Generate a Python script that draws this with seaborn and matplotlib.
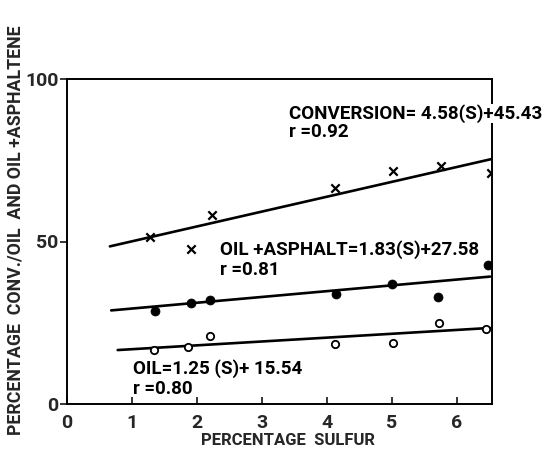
import matplotlib
matplotlib.use("Agg")
import matplotlib.pyplot as plt
import seaborn as sns
import pandas as pd

# --- data ---
conv_x = [1.27, 1.91, 2.23, 4.13, 5.02, 5.76, 6.53]
conv_y = [51.5, 47.6, 58.2, 66.4, 71.7, 73.2, 71.0]

asph_x = [1.35, 1.91, 2.20, 4.14, 5.00, 5.71, 6.48]
asph_y = [28.6, 31.0, 32.0, 33.7, 36.9, 32.8, 42.8]

oil_x = [1.34, 1.86, 2.20, 4.13, 5.02, 5.73, 6.45]
oil_y = [16.6, 17.6, 20.9, 18.4, 18.7, 25.0, 23.0]

# regression line end points
conv_line_x = [0.66, 6.54]
conv_line_y = [48.5, 75.4]
asph_line_x = [0.68, 6.51]
asph_line_y = [28.8, 39.2]
oil_line_x = [0.78, 6.51]
oil_line_y = [16.6, 23.4]

x_ticks = [0, 1, 2, 3, 4, 5, 6]
x_tick_labels = ["0", "1", "2", "3", "4", "5", "6"]
y_ticks = [0, 50, 100]
y_tick_labels = ["0", "50", "100"]

sns.set_style("ticks")
plt.rcParams["font.family"] = ["Roboto", "DejaVu Sans"]
plt.rcParams["font.weight"] = "bold"

fig = plt.figure(figsize=(5.45, 4.58), dpi=100)
ax = fig.add_axes([67 / 545, 54 / 458, 425 / 545, 325 / 458])

pts = pd.concat([
    pd.DataFrame({"s": conv_x, "v": conv_y, "series": "conv"}),
    pd.DataFrame({"s": asph_x, "v": asph_y, "series": "asph"}),
    pd.DataFrame({"s": oil_x, "v": oil_y, "series": "oil"}),
])
lines = pd.concat([
    pd.DataFrame({"s": conv_line_x, "v": conv_line_y, "series": "conv"}),
    pd.DataFrame({"s": asph_line_x, "v": asph_line_y, "series": "asph"}),
    pd.DataFrame({"s": oil_line_x, "v": oil_line_y, "series": "oil"}),
])

sns.lineplot(data=lines, x="s", y="v", units="series", estimator=None,
             color="black", linewidth=1.9, ax=ax, legend=False)

sns.scatterplot(data=pts[pts.series == "conv"], x="s", y="v", marker="x",
                color="black", s=36, linewidth=1.6, ax=ax, legend=False, zorder=3)
sns.scatterplot(data=pts[pts.series == "asph"], x="s", y="v", marker="o",
                color="black", edgecolor="black", s=42, ax=ax, legend=False, zorder=3)
sns.scatterplot(data=pts[pts.series == "oil"], x="s", y="v", marker="o",
                facecolor="white", edgecolor="black", linewidth=1.3, s=28,
                ax=ax, legend=False, zorder=3)

ax.set_xlim(0, 6.54)
ax.set_ylim(0, 100)
ax.set_xticks(x_ticks, labels=x_tick_labels, fontweight="bold")
ax.set_yticks(y_ticks, labels=y_tick_labels, fontweight="bold")
ax.tick_params(axis="x", direction="in", length=5, width=1.3, labelsize=14, pad=7)
ax.tick_params(axis="y", direction="out", length=5, width=1.3, labelsize=14, pad=1)
for sp in ax.spines.values():
    sp.set_linewidth(1.4)
    sp.set_color("black")

ax.set_xlabel("PERCENTAGE  SULFUR", fontsize=12, fontweight="bold")
ax.xaxis.set_label_coords(0.52, -0.09)
ax.set_ylabel("PERCENTAGE  CONV./OIL  AND OIL +ASPHALTENE", fontsize=12.8,
              fontweight="bold")
ax.yaxis.set_label_coords(-0.099, 0.535)

tkw = dict(fontsize=13.5, color="black", va="center", ha="left", fontweight="bold")
ax.text(3.41, 89.5, "CONVERSION= 4.58(S)+45.43", clip_on=False,
        bbox=dict(facecolor="white", edgecolor="none", pad=0), zorder=5, **tkw)
ax.text(3.41, 83.8, "r =0.92", **tkw)
ax.text(2.36, 47.6, "OIL +ASPHALT=1.83(S)+27.58", **tkw)
ax.text(2.36, 41.2, "r =0.81", **tkw)
ax.text(1.02, 10.8, "OIL=1.25 (S)+ 15.54", **tkw)
ax.text(1.02, 4.6, "r =0.80", **tkw)

fig.savefig("out.png", dpi=100)
